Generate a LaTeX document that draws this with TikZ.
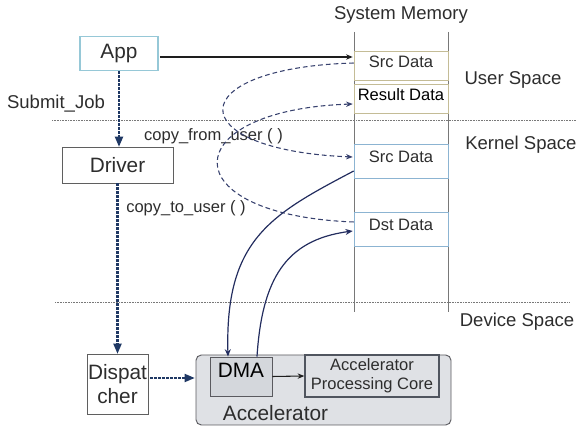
\documentclass[tikz,border=0pt]{standalone}
\usepackage{fontspec}
\setmainfont{Liberation Sans}
\usetikzlibrary{arrows.meta,calc}

\begin{document}
\begin{tikzpicture}[x=0.75pt,y=0.75pt,yscale=-1,xscale=1,
  every node/.style={inner sep=0pt,text={rgb,255:red,45;green,45;blue,45}},
  big/.style={font=\fontsize{15.6}{18.5}\selectfont},
  mid/.style={font=\fontsize{13.9}{16.5}\selectfont},
  small/.style={font=\fontsize{12.4}{14.5}\selectfont},
  membox/.style={draw,minimum width=70.5pt,small,text height=9pt,text depth=6pt},
  userbox/.style={membox,draw={rgb,255:red,196;green,188;blue,150},minimum height=21.75pt},
  kernbox/.style={membox,draw={rgb,255:red,140;green,180;blue,210},minimum height=25.5pt},
  plainbox/.style={draw={rgb,255:red,95;green,95;blue,95},line width=0.6pt,big},
  sepline/.style={draw={rgb,255:red,120;green,120;blue,120},line width=0.6pt,dash pattern={on 0.6pt off 0.6pt}},
  memline/.style={draw={rgb,255:red,120;green,120;blue,120},line width=0.7pt},
  dotarrow/.style={draw={rgb,255:red,31;green,56;blue,100},line width=2.2pt,dash pattern={on 1.7pt off 1.3pt},
    -{Triangle[length=7.5pt,width=6.5pt,line width=0pt]}},
  dashcurve/.style={draw={rgb,255:red,55;green,65;blue,110},line width=0.8pt,dash pattern={on 3.5pt off 2.3pt},
    -{Stealth[length=5pt,width=4pt]}},
  solidcurve/.style={draw={rgb,255:red,35;green,45;blue,95},line width=0.9pt,
    -{Stealth[length=5.5pt,width=4.5pt]}},
  thinarrow/.style={draw={rgb,255:red,30;green,30;blue,30},line width=0.8pt,-{Stealth[length=5pt,width=4pt]}}
]
\useasboundingbox (0,0) rectangle (576,427);

%Straight Lines: space separators
\draw[sepline] (52,120) -- (576,120);
\draw[sepline] (55,302) -- (570,302);
%Straight Lines: memory column
\draw[memline] (354,32) -- (354,312);
\draw[memline] (448,32) -- (448,312);

%Shape: Rectangle: memory blocks
\node[userbox] (usrc) at (401,65.5) {Src Data};
\node[userbox,text=black] (result) at (401,98.5) {Result Data};
\node[kernbox] (ksrc) at (401,161) {Src Data};
\node[kernbox] (dst) at (401,229) {Dst Data};

%Shape: Rectangle: software side
\node[plainbox,draw={rgb,255:red,150;green,200;blue,215},line width=1.2pt,minimum width=58.5pt,minimum height=25.5pt] (app) at (119,53.5) {App};
\node[plainbox,minimum width=83.25pt,minimum height=27pt] (driver) at (117.5,165) {Driver};
\node[plainbox,align=center,minimum width=45.75pt,minimum height=45pt] (disp) at (117.5,384) {Dispat\\cher};

%Shape: Rectangle: accelerator
\node[draw={rgb,255:red,90;green,90;blue,95},fill={rgb,255:red,223;green,225;blue,229},rounded corners=4pt,line width=0.7pt,minimum width=191.25pt,minimum height=52.5pt] (accel) at (323.5,390) {};
\node[draw={rgb,255:red,90;green,90;blue,95},fill={rgb,255:red,212;green,215;blue,220},line width=0.7pt,big,text=black,text height=11.2pt,text depth=9pt,minimum width=46.5pt,minimum height=29.25pt] (dma) at (241,376.5) {DMA};
\node[draw={rgb,255:red,80;green,85;blue,95},fill={rgb,255:red,223;green,225;blue,229},line width=1pt,small,align=center,minimum width=100.5pt,minimum height=31.5pt] (core) at (372,376) {Accelerator\\Processing Core};

% Text Node
\node[big] (acclbl) at (275.5,413) {Accelerator};
% Text Node
\node[mid] (sysmem) at (401,15) {System Memory};
% Text Node
\node[mid] (userspace) at (513,80) {User Space};
% Text Node
\node[mid,anchor=west] (kernspace) at (465,145) {Kernel Space};
% Text Node
\node[mid] (devspace) at (517,322) {Device Space};
% Text Node
\node[mid] (submit) at (56,104) {Submit\_Job};
% Text Node
\node[small] (cfu) at (213.5,136) {copy\_from\_user ( )};
% Text Node
\node[small] (ctu) at (186,208) {copy\_to\_user ( )};

%Straight Lines: control flow
\draw[thinarrow,line width=1.1pt] ($(app.east)+(1,3.5)$) -- ($(usrc.west)+(-1,-8.5)$);
\draw[dotarrow] (app.south) -- (app.south |- driver.north);
\draw[dotarrow] (driver.south) -- (driver.south |- disp.north);
\draw[dotarrow] ($(disp.east)+(2,-6)$) -- ($(disp.east -| accel.west)+(-1,-6)$);
\draw[thinarrow] (dma.east) -- (core.west);

%Curve Lines: copies between spaces
\draw[dashcurve] ($(usrc.west)+(0,-2.5)$) .. controls (180,68) and (180,150) .. ($(ksrc.west)+(-1,-4)$);
\draw[dashcurve] ($(dst.west)+(0,-7)$) .. controls (170,215) and (175,110) .. ($(result.west)+(-1,5.5)$);
%Curve Lines: DMA transfers
\draw[solidcurve] ($(ksrc.west)+(0,10)$) .. controls (270,215) and (225,240) .. ($(dma.north)+(-13,0)$);
\draw[solidcurve] ($(dma.north)+(16,0)$) .. controls (262,280) and (285,240) .. ($(dst.west)+(-1,2)$);

\end{tikzpicture}
\end{document}
